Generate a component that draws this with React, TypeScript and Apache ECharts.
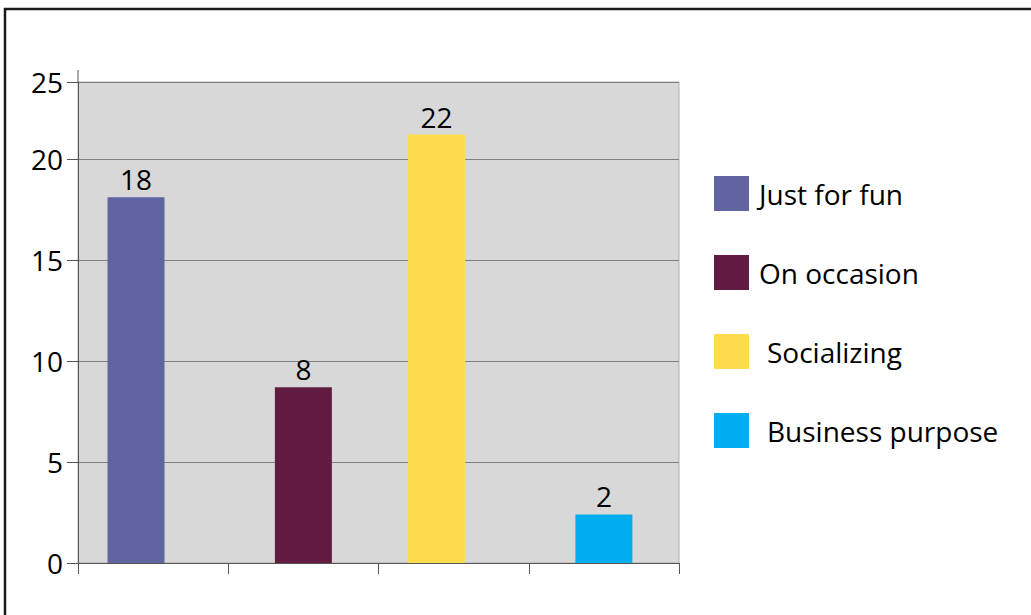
import React, { useEffect, useRef } from "react";
import * as echarts from "echarts";

const categories = ["Just for fun", "On occasion", "Socializing", "Business purpose"];
// bar heights as drawn against the axis
const barValues = [18.1, 8.7, 21.2, 2.4];
// value labels printed above the bars
const barLabels = ["18", "8", "22", "2"];
const barColors = ["#6264A1", "#621C41", "#FEDD4D", "#00AEEF"];
// which slot group each bar sits in (the original bars are not centred in their categories)
const barSlots = ["left", "mid", "left", "mid"];
const indentedLegend = [false, false, true, true];
const yTickLabels = ["0", "5", "10", "15", "20", "25"];
const yMax = 23.8;

export default function App() {
  const ref = useRef<HTMLDivElement>(null);
  useEffect(() => {
    if (!ref.current) return;
    const chart = echarts.init(ref.current, undefined, { renderer: "svg" });
    const font = "'Open Sans', 'Noto Sans', sans-serif";
    const series: any[] = categories.map((name, i) => ({
      name,
      type: "bar",
      stack: barSlots[i],
      barWidth: 57,
      barGap: "-70%",
      data: categories.map((_, j) => (j === i ? barValues[i] : "-")),
      itemStyle: { color: barColors[i] },
      label: {
        show: true,
        position: "top",
        distance: 4,
        fontFamily: font,
        fontSize: 28,
        color: "#000",
        formatter: (p: any) => barLabels[p.dataIndex],
      },
    }));
    // empty spacer slot on the right so the slot groups sit left of centre
    series.push({
      name: "spacer",
      type: "bar",
      stack: "spacer",
      barWidth: 57,
      barGap: "-70%",
      silent: true,
      data: categories.map(() => "-"),
    });
    chart.setOption({
      animation: false,
      backgroundColor: "#fff",
      textStyle: { fontFamily: font },
      grid: {
        left: 78,
        right: 352,
        top: 82,
        bottom: 52,
        show: true,
        backgroundColor: "#D8D8D8",
        borderColor: "#B0B0B0",
        borderWidth: 1,
      },
      legend: {
        orient: "vertical",
        left: 709,
        top: 171,
        itemWidth: 35,
        itemHeight: 35,
        itemGap: 44,
        icon: "rect",
        selectedMode: false,
        data: categories,
        textStyle: {
          fontFamily: font,
          fontSize: 28,
          color: "#000",
          rich: {
            a: { fontFamily: font, fontSize: 28, color: "#000", padding: [0, 0, 0, 5] },
            b: { fontFamily: font, fontSize: 28, color: "#000", padding: [0, 0, 0, 13] },
          },
        },
        formatter: (name: string) => {
          const i = categories.indexOf(name);
          return indentedLegend[i] ? `{b|${name}}` : `{a|${name}}`;
        },
      },
      xAxis: {
        type: "category",
        data: categories,
        axisLine: { show: true, lineStyle: { color: "#555", width: 1 } },
        axisTick: { show: true, length: 11, lineStyle: { color: "#555" } },
        axisLabel: { show: false },
        splitLine: { show: false },
      },
      yAxis: {
        type: "value",
        min: 0,
        max: yMax,
        interval: 5,
        axisLine: { show: true, lineStyle: { color: "#555", width: 1 } },
        axisTick: { show: true, length: 11, lineStyle: { color: "#555" } },
        axisLabel: {
          margin: 15,
          fontFamily: font,
          fontSize: 28,
          color: "#000",
          formatter: (_v: number, idx: number) => yTickLabels[idx] ?? "",
        },
        splitLine: { show: true, lineStyle: { color: "#808080", width: 1 } },
      },
      graphic: [
        {
          type: "rect",
          shape: { x: 5, y: 9, width: 1100, height: 700 },
          style: { fill: "none", stroke: "#1A1A1A", lineWidth: 2.5 },
          silent: true,
        },
        {
          type: "line",
          shape: { x1: 78, y1: 70, x2: 78, y2: 82 },
          style: { stroke: "#555", lineWidth: 1 },
          silent: true,
        },
      ],
      series,
    });
    return () => chart.dispose();
  }, []);
  return (
    <div
      ref={ref}
      style={{ position: "fixed", left: 0, top: 0, width: 1031, height: 615 }}
    />
  );
}
